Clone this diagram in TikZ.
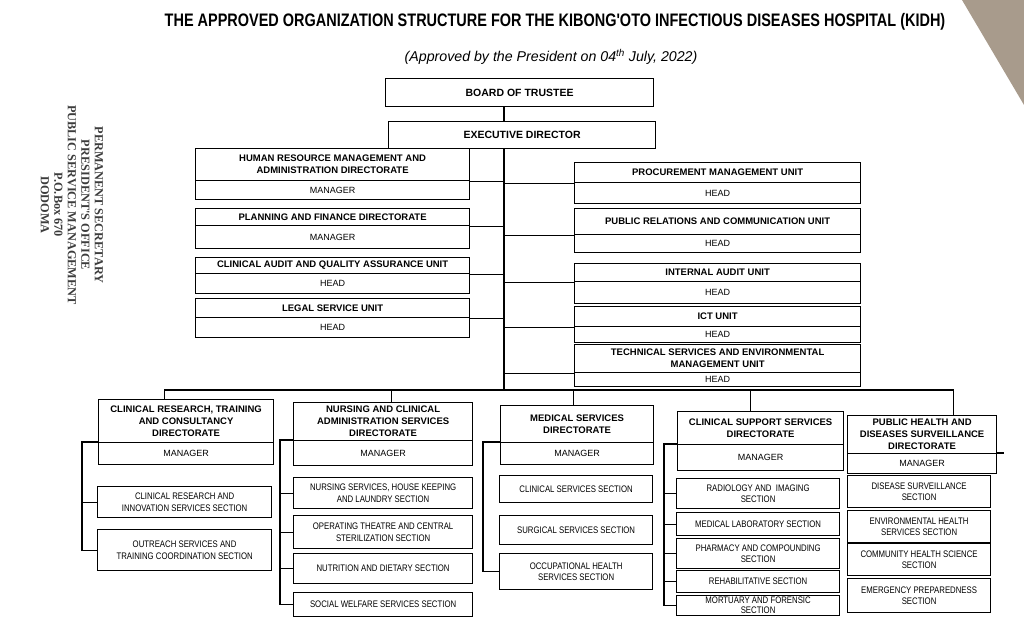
\documentclass[tikz,border=0pt]{standalone}
\usepackage{fontspec}
\setmainfont{Liberation Sans}
\newfontfamily\titlefont[FakeStretch=0.8]{Liberation Sans}
\newfontfamily\secfont[FakeStretch=0.82]{Liberation Sans}
\newfontfamily\stampfont{Liberation Serif}
\usetikzlibrary{calc,positioning}
\definecolor{StampGrey}{RGB}{60, 60, 60}
\definecolor{EdgeGrey}{RGB}{168, 155, 140}

\begin{document}
\begin{tikzpicture}[x=1pt, y=-1pt,
  unit/.style={draw, line width=1.2pt, anchor=north west, align=center, inner sep=1pt,
               font=\bfseries\fontsize{9.5}{12}\selectfont},
  role/.style={unit, font=\fontsize{9}{11}\selectfont},
  sect/.style={unit, font=\secfont\fontsize{9.5}{11.5}\selectfont},
  link/.style={line width=1.2pt}]
  \useasboundingbox (0,0) rectangle (1024,616);
  \fill[EdgeGrey] (962,0) -- (1024,0) -- (1024,105) -- cycle;

  % headings
  \node[font=\titlefont\bfseries\fontsize{18.1}{21}\selectfont] (title) at (555,22)
    {THE APPROVED ORGANIZATION STRUCTURE FOR THE KIBONG'OTO INFECTIOUS DISEASES HOSPITAL (KIDH)};
  \node[font=\itshape\fontsize{14.2}{17}\selectfont] (approved) at (551,57)
    {(Approved by the President on 04\textsuperscript{th} July, 2022)};
  \node[rotate=-90, align=center, text=StampGrey, font=\stampfont\bfseries\fontsize{12.3}{13.5}\selectfont] (stamp) at (72,205)
    {PERMANENT SECRETARY\\PRESIDENT'S OFFICE\\PUBLIC SERVICE MANAGEMENT\\P.O.Box 670\\DODOMA};

  % top of the structure
  \node[unit, minimum width=268pt, minimum height=28pt, font=\bfseries\fontsize{10.5}{12}\selectfont] (board) at (385,78) {BOARD OF TRUSTEE};
  \node[unit, minimum width=267pt, minimum height=27pt, font=\bfseries\fontsize{10.5}{12}\selectfont] (exec) at (388,121) {EXECUTIVE DIRECTOR};
  \coordinate (bus) at (504,390);

  % left units
  \node[unit, minimum width=274pt, minimum height=32pt] (hrm) at (195,148) {HUMAN RESOURCE MANAGEMENT AND\\ADMINISTRATION DIRECTORATE};
  \node[role, minimum width=274pt, minimum height=19pt] (hrmM) at (195,180) {MANAGER};
  \node[unit, minimum width=274pt, minimum height=17pt] (pf) at (195,208) {PLANNING AND FINANCE DIRECTORATE};
  \node[role, minimum width=274pt, minimum height=23pt] (pfM) at (195,225) {MANAGER};
  \node[unit, minimum width=274pt, minimum height=16pt] (cau) at (195,257) {CLINICAL AUDIT AND QUALITY ASSURANCE UNIT};
  \node[role, minimum width=274pt, minimum height=20pt] (cauH) at (195,273) {HEAD};
  \node[unit, minimum width=274pt, minimum height=19pt] (legal) at (195,298) {LEGAL SERVICE UNIT};
  \node[role, minimum width=274pt, minimum height=20pt] (legalH) at (195,317) {HEAD};

  % right units
  \node[unit, minimum width=286pt, minimum height=20pt] (proc) at (574,162) {PROCUREMENT MANAGEMENT UNIT};
  \node[role, minimum width=286pt, minimum height=21pt] (procH) at (574,182) {HEAD};
  \node[unit, minimum width=286pt, minimum height=26pt] (pr) at (574,208) {PUBLIC RELATIONS AND COMMUNICATION UNIT};
  \node[role, minimum width=286pt, minimum height=18pt] (prH) at (574,234) {HEAD};
  \node[unit, minimum width=286pt, minimum height=18pt] (ia) at (574,263) {INTERNAL AUDIT UNIT};
  \node[role, minimum width=286pt, minimum height=22pt] (iaH) at (574,281) {HEAD};
  \node[unit, minimum width=286pt, minimum height=20pt] (ict) at (574,306) {ICT UNIT};
  \node[role, minimum width=286pt, minimum height=16pt] (ictH) at (574,326) {HEAD};
  \node[unit, minimum width=286pt, minimum height=28pt] (tech) at (574,344) {TECHNICAL SERVICES AND ENVIRONMENTAL\\MANAGEMENT UNIT};
  \node[role, minimum width=286pt, minimum height=14pt] (techH) at (574,372) {HEAD};

  % directorates
  \node[unit, minimum width=175pt, minimum height=43pt] (crd) at (98,399) {CLINICAL RESEARCH, TRAINING\\AND CONSULTANCY\\DIRECTORATE};
  \node[role, minimum width=175pt, minimum height=22pt] (crdM) at (98,442) {MANAGER};
  \node[unit, minimum width=179pt, minimum height=38pt] (nsd) at (293,402) {NURSING AND CLINICAL\\ADMINISTRATION SERVICES\\DIRECTORATE};
  \node[role, minimum width=179pt, minimum height=25pt] (nsdM) at (293,440) {MANAGER};
  \node[unit, minimum width=153pt, minimum height=37pt] (msd) at (500,405) {MEDICAL SERVICES\\DIRECTORATE};
  \node[role, minimum width=153pt, minimum height=22pt] (msdM) at (500,442) {MANAGER};
  \node[unit, minimum width=166pt, minimum height=33pt] (cssd) at (677,411) {CLINICAL SUPPORT SERVICES\\DIRECTORATE};
  \node[role, minimum width=166pt, minimum height=26pt] (cssdM) at (677,444) {MANAGER};
  \node[unit, minimum width=149pt, minimum height=38pt] (phd) at (847,415) {PUBLIC HEALTH AND\\DISEASES SURVEILLANCE\\DIRECTORATE};
  \node[role, minimum width=149pt, minimum height=20pt] (phdM) at (847,453) {MANAGER};

  % sections
  \node[sect, minimum width=174pt, minimum height=31pt] (crs1) at (97,486) {CLINICAL RESEARCH AND\\INNOVATION SERVICES SECTION};
  \node[sect, minimum width=174pt, minimum height=41pt] (crs2) at (97,529) {OUTREACH SERVICES AND\\TRAINING COORDINATION SECTION};
  \node[sect, minimum width=179pt, minimum height=31pt] (ns1) at (293,477) {NURSING SERVICES, HOUSE KEEPING\\AND LAUNDRY SECTION};
  \node[sect, minimum width=179pt, minimum height=33pt] (ns2) at (293,515) {OPERATING THEATRE AND CENTRAL\\STERILIZATION SECTION};
  \node[sect, minimum width=179pt, minimum height=30pt] (ns3) at (293,553) {NUTRITION AND DIETARY SECTION};
  \node[sect, minimum width=179pt, minimum height=24pt] (ns4) at (293,592) {SOCIAL WELFARE SERVICES SECTION};
  \node[sect, minimum width=153pt, minimum height=27pt] (ms1) at (499,475) {CLINICAL SERVICES SECTION};
  \node[sect, minimum width=153pt, minimum height=29pt] (ms2) at (499,515) {SURGICAL SERVICES SECTION};
  \node[sect, minimum width=153pt, minimum height=36pt] (ms3) at (499,553) {OCCUPATIONAL HEALTH\\SERVICES SECTION};
  \node[sect, minimum width=163pt, minimum height=30pt] (cs1) at (676,478) {RADIOLOGY AND \ IMAGING\\SECTION};
  \node[sect, minimum width=163pt, minimum height=23pt] (cs2) at (676,512) {MEDICAL LABORATORY SECTION};
  \node[sect, minimum width=163pt, minimum height=30pt] (cs3) at (676,538) {PHARMACY AND COMPOUNDING\\SECTION};
  \node[sect, minimum width=163pt, minimum height=22pt] (cs4) at (676,570) {REHABILITATIVE SECTION};
  \node[sect, minimum width=163pt, minimum height=20pt, font=\secfont\fontsize{9.5}{10}\selectfont] (cs5) at (676,595) {MORTUARY AND FORENSIC\\SECTION};
  \node[sect, minimum width=143pt, minimum height=32pt] (ph1) at (847,475) {DISEASE SURVEILLANCE\\SECTION};
  \node[sect, minimum width=143pt, minimum height=32pt] (ph2) at (847,510) {ENVIRONMENTAL HEALTH\\SERVICES SECTION};
  \node[sect, minimum width=143pt, minimum height=32pt] (ph3) at (847,543) {COMMUNITY HEALTH SCIENCE\\SECTION};
  \node[sect, minimum width=143pt, minimum height=34pt] (ph4) at (847,578) {EMERGENCY PREPAREDNESS\\SECTION};

  % trunk and bus
  \draw[link] (board.south -| bus) -- (exec.north -| bus);
  \draw[link] (exec.south -| bus) -- (bus);
  \foreach \u in {hrm,pf,cau,legal} \draw[link] (\u.south east) -- (\u.south east -| bus);
  \foreach \u in {proc,pr,ia,ict,tech} \draw[link] (\u.south west) -- (\u.south west -| bus);
  \draw[link] (crd.north) ++(-22,0) |- (bus);
  \draw[link] (nsd.north) ++(8,0) |- (bus);
  \draw[link] (msd.north) ++(-4,0) |- (bus);
  \draw[link] (cssd.north) ++(-10,0) |- (bus);
  \draw[link] (phd.north) ++(31,0) |- (bus);
  \draw[link] (phdM.north east) -- ++(7,0);

  % section spines
  \draw[link] (crdM.north west) -- ++(-16,0) |- (crs2.west);
  \draw[link] (crs1.west) -- ++(-15,0);
  \draw[link] (nsdM.north west) -- ++(-13,0) |- (ns4.west);
  \foreach \s in {ns1,ns2,ns3} \draw[link] (\s.west) -- ++(-13,0);
  \draw[link] (msdM.north west) -- ++(-17,0) |- (ms3.west);
  \draw[link] (cssdM.north west) -- ++(-13,0) |- (cs5.west);
  \foreach \s in {cs1,cs2,cs3,cs4} \draw[link] (\s.west) -- ++(-12,0);
\end{tikzpicture}
\end{document}
